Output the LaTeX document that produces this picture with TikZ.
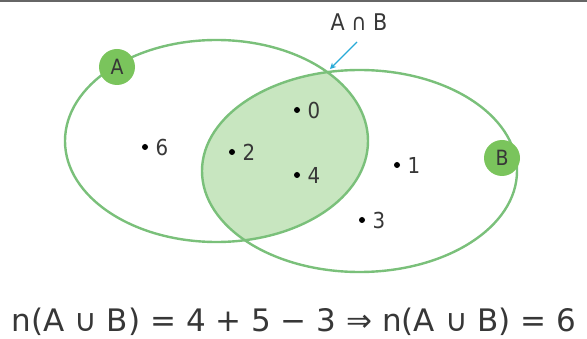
\documentclass[tikz,border=0pt]{standalone}
\usepackage{fontspec}
\setmainfont{DejaVu Sans Condensed}
\newfontfamily\widesans{DejaVu Sans}
\usetikzlibrary{arrows.meta,positioning}

\definecolor{setline}{RGB}{122,192,122}
\definecolor{setfill}{RGB}{200,230,192}
\definecolor{tagfill}{RGB}{122,196,92}
\definecolor{inkgray}{RGB}{55,55,55}
\definecolor{pointcyan}{RGB}{40,170,215}

\begin{document}
\begin{tikzpicture}[
    x=1pt, y=-1pt,
    setedge/.style={draw=setline, line width=2.4pt},
    tag/.style={circle, fill=tagfill, minimum size=36pt, inner sep=0pt, text=inkgray, font=\fontsize{21}{23}\selectfont},
    elem/.style={circle, fill=black, minimum size=6pt, inner sep=0pt,
        label={[text=inkgray, font=\fontsize{22}{24}\selectfont, label distance=4pt]right:#1}},
    pointer/.style={-{Stealth[length=6pt, width=6pt]}, draw=pointcyan, line width=1.3pt}
]
\useasboundingbox (0,0) rectangle (587,339);
\draw[gray!80!black, line width=2pt] (0,1) -- (587,1);

% shaded part A cap B
\begin{scope}
  \clip (216.5,141) ellipse [x radius=151.5, y radius=101];
  \fill[setfill] (359.5,171) ellipse [x radius=157.5, y radius=101];
\end{scope}
\draw[setedge] (216.5,141) ellipse [x radius=151.5, y radius=101];
\draw[setedge] (359.5,171) ellipse [x radius=157.5, y radius=101];

\node[tag] (tagA) at (117,67) {A};
\node[tag] (tagB) at (502,158) {B};

% elements
\node[elem=0] (e0) at (297,110) {};
\node[elem=6] (e6) at (145,147) {};
\node[elem=2] (e2) at (232,152) {};
\node[elem=4] (e4) at (297,175) {};
\node[elem=1] (e1) at (397,165) {};
\node[elem=3] (e3) at (362,220) {};

% intersection pointer
\node[text=inkgray, font=\fontsize{23}{25}\selectfont] (captext) at (359,22) {A ∩ B};
\coordinate (capfrom) at (357,42);
\coordinate (cap) at (330,69);
\draw[pointer] (capfrom) -- (cap);

\node[anchor=base, text=inkgray, font=\widesans\fontsize{31}{34}\selectfont] (formula) at (294,332)
    {n(A ∪ B) = 4 + 5 − 3 ⇒ n(A ∪ B) = 6};
\end{tikzpicture}
\end{document}
